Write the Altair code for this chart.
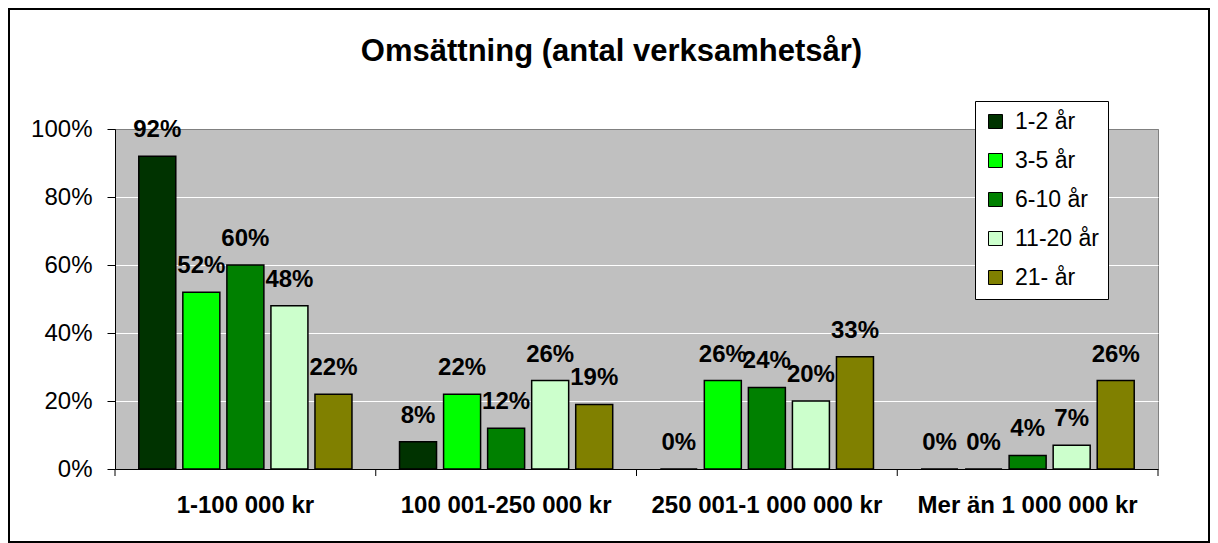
import altair as alt
import pandas as pd

categories = ["1-100 000 kr", "100 001-250 000 kr", "250 001-1 000 000 kr", "Mer än 1 000 000 kr"]
series_names = ["1-2 år", "3-5 år", "6-10 år", "11-20 år", "21- år"]
share_1_2 = [92, 8, 0, 0]
share_3_5 = [52, 22, 26, 0]
share_6_10 = [60, 12, 24, 4]
share_11_20 = [48, 26, 20, 7]
share_21 = [22, 19, 33, 26]
colors = ["#003300", "#00FF00", "#008000", "#CCFFCC", "#808000"]
y_ticks = [0, 20, 40, 60, 80, 100]

rows = []
for s, vals in zip(series_names, [share_1_2, share_3_5, share_6_10, share_11_20, share_21]):
    for c, v in zip(categories, vals):
        rows.append({"kategori": c, "grupp": s, "andel": v})
df = pd.DataFrame(rows)
tick_df = pd.DataFrame({"kategori": categories})

W, H = 1043, 340
FONT = "Liberation Sans"

x_scale = alt.Scale(domain=categories, paddingInner=0, paddingOuter=0)
x_axis = alt.Axis(title=None, labelFont=FONT, labelFontSize=24, labelFontWeight="bold",
                  labelColor="black", labelAngle=0, ticks=False, tickSize=0, labelPadding=24,
                  labelLimit=400, domainColor="black", domainWidth=1, grid=False)
x_enc = alt.X("kategori:N", sort=categories, scale=x_scale, axis=x_axis)
xoff = alt.XOffset("grupp:N", sort=series_names,
                   scale=alt.Scale(domain=series_names, paddingInner=0.16, paddingOuter=0.54))
y_enc = alt.Y("andel:Q", scale=alt.Scale(domain=[0, 100], nice=False),
              axis=alt.Axis(title=None, values=y_ticks, labelExpr="datum.value + '%'",
                            labelFont=FONT, labelFontSize=24, labelColor="black",
                            tickColor="black", tickSize=8, labelPadding=15,
                            domainColor="black", domainWidth=1, grid=True,
                            gridColor={"condition": {"test": "datum.value >= 100", "value": "#808080"},
                                       "value": "white"},
                            gridWidth=1))
color = alt.Color("grupp:N", sort=series_names,
                  scale=alt.Scale(domain=series_names, range=colors),
                  legend=alt.Legend(title=None, orient="none", legendX=860, legendY=-28,
                                    direction="vertical", fillColor="white", strokeColor="black",
                                    padding=9, symbolType="square", symbolSize=196,
                                    symbolStrokeColor="black", symbolStrokeWidth=1,
                                    symbolOpacity=1, labelFont=FONT, labelFontSize=23,
                                    labelColor="black", labelOffset=8, rowPadding=15))

border = alt.Chart(pd.DataFrame({"a": [0]})).mark_rect(
    fillOpacity=0, stroke="black", strokeWidth=2
).encode(x=alt.value(-106), x2=alt.value(W + 51), y=alt.value(-120), y2=alt.value(H + 73))

bars = alt.Chart(df).mark_bar(stroke="black", strokeWidth=1.5).encode(
    x=x_enc, xOffset=xoff, y=y_enc, color=color
)

labels = alt.Chart(df).transform_calculate(etikett="datum.andel + '%'").mark_text(
    font=FONT, fontSize=24, fontWeight="bold", baseline="alphabetic", dy=-19, color="black"
).encode(x=x_enc, xOffset=xoff, y=y_enc, text="etikett:N")

ticks = alt.Chart(tick_df).mark_rule(color="black", strokeWidth=1).encode(
    x=alt.X("kategori:N", sort=categories, bandPosition=0, scale=x_scale, axis=x_axis),
    y=alt.value(H), y2=alt.value(H + 7)
)
end_tick = alt.Chart(pd.DataFrame({"a": [0]})).mark_rule(color="black", strokeWidth=1).encode(
    x=alt.value(W), y=alt.value(H), y2=alt.value(H + 7)
)

chart = alt.layer(border, bars, labels, ticks, end_tick).properties(
    width=W, height=H,
    title=alt.Title("Omsättning (antal verksamhetsår)", font=FONT, fontSize=31,
                    fontWeight="bold", color="black", anchor="middle", frame="group",
                    dx=-25, baseline="alphabetic", offset=-84),
    autosize=alt.AutoSizeParams(type="none"),
    padding={"left": 107, "top": 121, "right": 52, "bottom": 74},
    background="white",
).configure_view(stroke="#808080", strokeWidth=1, fill="#C0C0C0")

chart.save("out.html", embed_options={"renderer": "svg", "actions": False})
